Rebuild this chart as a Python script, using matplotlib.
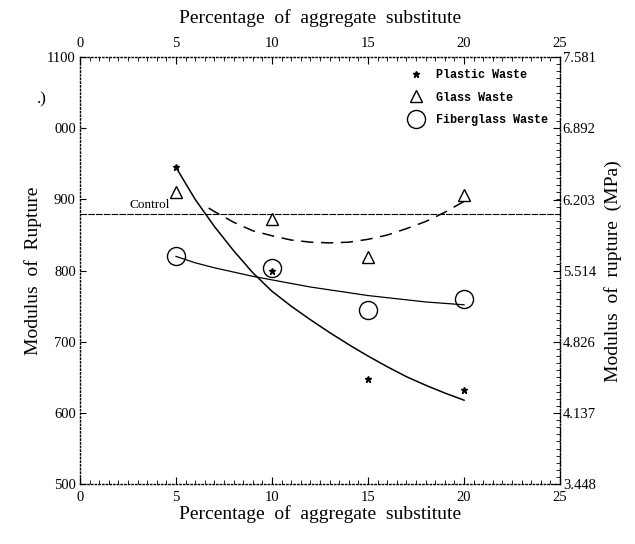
import matplotlib
matplotlib.use("Agg")
import matplotlib.pyplot as plt
from matplotlib.ticker import MultipleLocator, FixedLocator

# ---- data ----
pct = [5, 10, 15, 20]
plastic = [945, 800, 648, 632]
glass = [910, 873, 819, 906]
fiberglass = [820, 804, 744, 760]
control = 880

# fitted trend curves
plastic_fit_x = [5, 6, 7, 8, 9, 10, 11, 12, 13, 14, 15, 16, 17, 18, 19, 20]
plastic_fit_y = [945, 900, 862, 828, 797, 771, 750, 731, 713, 696, 680, 665, 651, 639, 628, 618]
glass_fit_x = [6.7, 7, 8, 9, 10, 11, 12, 13, 14, 15, 16, 17, 18, 19, 20.3]
glass_fit_y = [888, 883, 868, 856, 849, 843, 840, 839, 840, 844, 850, 859, 869, 882, 902]
fiber_fit_x = [5, 6, 7, 8, 9, 10, 11, 12, 13, 14, 15, 16, 17, 18, 19, 20]
fiber_fit_y = [820, 811, 804, 798, 792, 787, 782, 777, 773, 769, 765, 762, 759, 756, 754, 752]

left_ticks = [500, 600, 700, 800, 900, 1000, 1100]
left_labels = ["500", "600", "700", "800", "900", "000", "1100"]
mpa_ticks = [3.448, 4.137, 4.826, 5.514, 6.203, 6.892, 7.581]
x_ticks = [0, 5, 10, 15, 20, 25]

serif = "Liberation Serif"

fig = plt.figure(figsize=(6.35, 5.44), dpi=100)
ax = fig.add_axes([0.126, 0.11, 0.756, 0.785])

# control line
ax.axhline(control, color="black", lw=0.8, ls=(0, (6, 1)))
ax.text(2.6, control + 4, "Control", family=serif, fontsize=9.5, va="bottom")

# fitted curves
ax.plot(plastic_fit_x, plastic_fit_y, color="black", lw=1.1)
ax.plot(fiber_fit_x, fiber_fit_y, color="black", lw=0.9)
ax.plot(glass_fit_x, glass_fit_y, color="black", lw=1.1, ls=(0, (8, 5)))

# data points
ax.plot(pct, plastic, ls="none", marker="*", ms=5, color="black", label="Plastic Waste")
ax.plot(pct, glass, ls="none", marker="^", ms=9, mfc="white", mec="black", mew=1.0,
        label="Glass Waste")
ax.plot(pct, fiberglass, ls="none", marker="o", ms=13, mfc="none", mec="black", mew=1.0,
        label="Fiberglass Waste")

ax.set_xlim(0, 25)
ax.set_ylim(500, 1100)

for s in ax.spines.values():
    s.set_linestyle(":")
    s.set_linewidth(1.0)

ax.set_xticks(x_ticks)
ax.xaxis.set_minor_locator(MultipleLocator(0.5))
ax.set_yticks(left_ticks)
ax.set_yticklabels(left_labels)
ax.tick_params(axis="x", which="both", direction="in", top=True, bottom=True,
               labeltop=True, labelbottom=True)
ax.tick_params(axis="x", which="major", length=5, pad=5)
ax.tick_params(axis="x", which="minor", length=3)
ax.tick_params(axis="y", which="major", direction="in", length=4, pad=3)
for lab in ax.get_xticklabels() + ax.get_yticklabels():
    lab.set_family(serif)
    lab.set_fontsize(10.5)

ax.set_xlabel("Percentage  of  aggregate  substitute", family=serif, fontsize=14, labelpad=1)
ax.text(0.5, 1.07, "Percentage  of  aggregate  substitute", transform=ax.transAxes,
        ha="center", va="bottom", family=serif, fontsize=14)
ax.set_ylabel("Modulus  of  Rupture", family=serif, fontsize=14, labelpad=4)
ax.text(-0.08, 0.9, ".)", transform=ax.transAxes, family=serif, fontsize=12,
        ha="center", va="center")

# right MPa axis
sec = ax.secondary_yaxis("right", functions=(lambda p: p * 0.0068935, lambda m: m / 0.0068935))
sec.set_yticks(mpa_ticks)
sec.set_yticklabels([f"{v:.3f}" for v in mpa_ticks])
sec.yaxis.set_minor_locator(FixedLocator([v * 0.0068935 for v in range(500, 1101, 10)]))
sec.tick_params(axis="y", which="major", direction="in", length=5, pad=2)
sec.tick_params(axis="y", which="minor", direction="in", length=3)
for lab in sec.get_yticklabels():
    lab.set_family(serif)
    lab.set_fontsize(10.5)
sec.spines["right"].set_linestyle(":")
sec.set_ylabel("Modulus  of  rupture  (MPa)", family=serif, fontsize=14, labelpad=6)

leg = ax.legend(loc="upper right", frameon=False, handlelength=1.0, handletextpad=1.2,
                labelspacing=0.9, borderaxespad=0.6,
                prop={"family": "Liberation Mono", "weight": "bold", "size": 8.5})

fig.savefig("out.png", dpi=100)
